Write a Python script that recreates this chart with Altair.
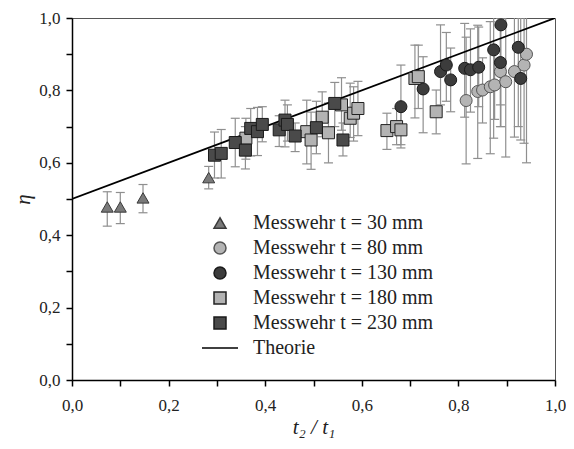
import altair as alt
import pandas as pd

SERIES = ["Messwehr t = 30 mm", "Messwehr t = 80 mm", "Messwehr t = 130 mm",
          "Messwehr t = 180 mm", "Messwehr t = 230 mm", "Theorie"]

# Messwehr t = 30 mm (triangles)
x30 = [0.073, 0.100, 0.147, 0.283]
y30 = [0.478, 0.478, 0.503, 0.559]
lo30 = [0.425, 0.432, 0.462, 0.528]
hi30 = [0.520, 0.518, 0.540, 0.590]

# Messwehr t = 80 mm (light circles)
x80 = [0.816, 0.840, 0.850, 0.866, 0.875, 0.887, 0.898, 0.916, 0.936, 0.941]
y80 = [0.772, 0.797, 0.801, 0.810, 0.815, 0.852, 0.824, 0.852, 0.870, 0.900]
lo80 = [0.597, 0.612, 0.710, 0.625, 0.720, 0.700, 0.616, 0.671, 0.654, 0.600]
hi80 = [0.947, 0.980, 0.890, 0.990, 0.910, 1.000, 1.030, 1.030, 1.080, 1.200]

# Messwehr t = 130 mm (dark circles)
x130 = [0.681, 0.727, 0.763, 0.775, 0.784, 0.813, 0.825, 0.842, 0.873, 0.888, 0.887, 0.924, 0.929]
y130 = [0.755, 0.804, 0.852, 0.870, 0.829, 0.861, 0.857, 0.864, 0.912, 0.981, 0.877, 0.919, 0.833]
lo130 = [0.650, 0.683, 0.760, 0.770, 0.741, 0.726, 0.740, 0.755, 0.668, 0.700, 0.760, 0.700, 0.663]
hi130 = [0.870, 0.893, 0.981, 0.960, 0.917, 0.985, 0.970, 0.975, 1.050, 1.100, 1.000, 1.100, 1.000]

# Messwehr t = 180 mm (light squares)
x180 = [0.360, 0.486, 0.495, 0.518, 0.531, 0.558, 0.576, 0.583, 0.592, 0.652, 0.672, 0.681, 0.710, 0.717, 0.754]
y180 = [0.668, 0.686, 0.663, 0.726, 0.683, 0.760, 0.723, 0.737, 0.750, 0.689, 0.700, 0.691, 0.833, 0.838, 0.741]
lo180 = [0.610, 0.597, 0.582, 0.672, 0.600, 0.690, 0.670, 0.660, 0.675, 0.637, 0.650, 0.641, 0.724, 0.750, 0.680]
hi180 = [0.723, 0.773, 0.740, 0.796, 0.765, 0.835, 0.820, 0.810, 0.825, 0.737, 0.750, 0.745, 0.925, 0.925, 0.801]

# Messwehr t = 230 mm (dark squares)
x230 = [0.295, 0.309, 0.338, 0.359, 0.370, 0.384, 0.394, 0.429, 0.441, 0.446, 0.462, 0.506, 0.544, 0.561]
y230 = [0.621, 0.626, 0.656, 0.635, 0.695, 0.686, 0.706, 0.691, 0.718, 0.706, 0.674, 0.697, 0.764, 0.663]
lo230 = [0.558, 0.558, 0.589, 0.583, 0.619, 0.620, 0.658, 0.645, 0.644, 0.660, 0.631, 0.625, 0.700, 0.619]
hi230 = [0.685, 0.692, 0.723, 0.700, 0.750, 0.753, 0.755, 0.730, 0.773, 0.760, 0.710, 0.770, 0.822, 0.710]

# Theorie
theory_x = [0.0, 1.0]
theory_y = [0.5, 1.0]

tick_values = [0.0, 0.1, 0.2, 0.3, 0.4, 0.5, 0.6, 0.7, 0.8, 0.9, 1.0]

groups = [
    (SERIES[0], x30, y30, lo30, hi30),
    (SERIES[1], x80, y80, lo80, hi80),
    (SERIES[2], x130, y130, lo130, hi130),
    (SERIES[3], x180, y180, lo180, hi180),
    (SERIES[4], x230, y230, lo230, hi230),
]
rows = []
for name, xs_, ys_, los, his in groups:
    for a, b, c, d in zip(xs_, ys_, los, his):
        rows.append({"series": name, "x": a, "y": b, "lo": c, "hi": d})
df = pd.DataFrame(rows)
theory = pd.DataFrame({"x": theory_x, "y": theory_y})

FONT = "'Liberation Serif', 'Times New Roman', serif"
label_expr = "(round(datum.value*10) % 2 == 0) ? replace(format(datum.value, '.1f'), '.', ',') : ''"

xscale = alt.Scale(domain=[0, 1], nice=False)
yscale = alt.Scale(domain=[0, 1], nice=False)

xaxis = alt.Axis(values=tick_values, labelExpr=label_expr, title="t₂ / t₁",
                 titleFontStyle="italic", titleFontWeight="normal", titleFontSize=21,
                 titleFont=FONT, labelFont=FONT, labelFontSize=17, labelColor="#222",
                 titleColor="#222", grid=False, tickSize=6, labelPadding=11,
                 titlePadding=3, domainColor="black", tickColor="black",
                 domainWidth=1.5, tickWidth=1.5, labelFlush=False)
yaxis = alt.Axis(values=tick_values, labelExpr=label_expr, title="η",
                 titleFontStyle="italic", titleFontWeight="normal", titleFontSize=21,
                 titleFont=FONT, labelFont=FONT, labelFontSize=17, labelColor="#222",
                 titleColor="#222", grid=False, tickSize=6, labelPadding=6,
                 titlePadding=5, domainColor="black", tickColor="black",
                 domainWidth=1.5, tickWidth=1.5, labelFlush=False)

X = alt.X("x:Q", scale=xscale, axis=xaxis)

err = alt.Chart(df).mark_rule(color="#8f8f8f", strokeWidth=1.2, clip=True).encode(
    x=X,
    y=alt.Y("lo:Q", scale=yscale, axis=yaxis),
    y2="hi:Q",
)

caps = alt.Chart(df).transform_fold(["lo", "hi"], as_=["end", "val"]).mark_tick(
    orient="horizontal", size=9, thickness=1.2, color="#8f8f8f", clip=True, opacity=1
).encode(
    x=X,
    y=alt.Y("val:Q", scale=yscale, axis=yaxis),
)

line = alt.Chart(theory).mark_line(color="black", strokeWidth=1.8, clip=True).encode(
    x=X,
    y=alt.Y("y:Q", scale=yscale, axis=yaxis),
)

leg = alt.Legend(title=None, orient="none", legendX=138, legendY=195,
                 labelFont=FONT, labelFontSize=20, labelColor="#222", labelLimit=400,
                 labelOffset=23, rowPadding=5, padding=0, symbolSize=144,
                 symbolStrokeWidth=1.5, symbolOpacity=1)

shape_range = ["triangle-up", "circle", "circle", "square", "square", "M-3,0H3"]
fill_range = ["#7a7a7a", "#b4b4b4", "#3c3c3c", "#b3b3b3", "#4a4a4a", "#000000"]
stroke_range = ["#3a3a3a", "#555555", "#1a1a1a", "#222222", "#1a1a1a", "#000000"]

points = alt.Chart(df).mark_point(filled=True, opacity=1, strokeWidth=1, size=144).encode(
    x=X,
    y=alt.Y("y:Q", scale=yscale, axis=yaxis),
    shape=alt.Shape("series:N", scale=alt.Scale(domain=SERIES, range=shape_range), legend=leg),
    fill=alt.Fill("series:N", scale=alt.Scale(domain=SERIES, range=fill_range), legend=leg),
    stroke=alt.Stroke("series:N", scale=alt.Scale(domain=SERIES, range=stroke_range), legend=leg),
)

chart = alt.layer(err, caps, line, points).properties(
    width=483, height=362,
    autosize=alt.AutoSizeParams(type="none"),
    padding={"left": 64, "top": 10, "right": 11, "bottom": 60},
).configure_view(stroke="#555555", strokeWidth=1)

chart.save("out.html", embed_options={"renderer": "svg", "actions": False})
